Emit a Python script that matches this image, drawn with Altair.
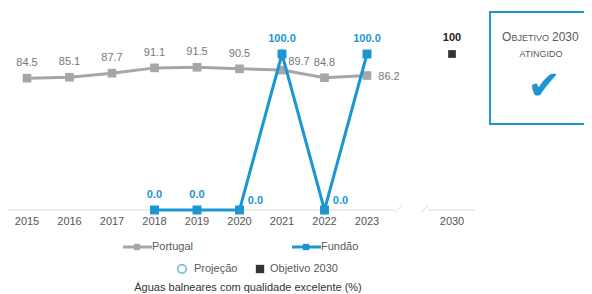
import altair as alt
import pandas as pd

# ---- data ----
years = ["2015", "2016", "2017", "2018", "2019", "2020", "2021", "2022", "2023", "2030"]
positions = [0, 1, 2, 3, 4, 5, 6, 7, 8, 10]
portugal = [84.5, 85.1, 87.7, 91.1, 91.5, 90.5, 89.7, 84.8, 86.2]
fundao_years = ["2018", "2019", "2020", "2021", "2022", "2023"]
fundao = [0.0, 0.0, 0.0, 100.0, 0.0, 100.0]
objetivo_year = "2030"
objetivo = [100]

pos_of = dict(zip(years, positions))
df_pt = pd.DataFrame({"year": years[:9], "pos": positions[:9], "v": portugal})
df_pt["lab"] = df_pt["v"].map(lambda v: f"{v:.1f}")
df_fu = pd.DataFrame({"year": fundao_years, "pos": [pos_of[y] for y in fundao_years], "v": fundao})
df_fu["lab"] = df_fu["v"].map(lambda v: f"{v:.1f}")
df_ob = pd.DataFrame({"year": [objetivo_year], "pos": [pos_of[objetivo_year]], "v": objetivo})
df_ob["lab"] = df_ob["v"].map(lambda v: f"{v:d}")
df_ticks = pd.DataFrame({"year": years, "pos": positions})

GRAY = "#a6a6a6"
BLUE = "#1b96d3"
FONT = "Liberation Sans"

xs = alt.Scale(domain=[0, 10], range=[19, 444])
ys = alt.Scale(domain=[0, 100], range=[202, 46])
X = alt.X("pos:Q", scale=xs, axis=None)
Y = alt.Y("v:Q", scale=ys, axis=None)

# Portugal
pt_line = alt.Chart(df_pt).mark_line(color=GRAY, strokeWidth=3).encode(x=X, y=Y)
pt_pts = alt.Chart(df_pt).mark_square(color=GRAY, opacity=1, size=75).encode(x=X, y=Y)
pt_lab_def = alt.Chart(df_pt).transform_filter(
    "datum.year != '2021' && datum.year != '2023'"
).mark_text(font=FONT, fontSize=11, color="#777777", dy=-15).encode(x=X, y=Y, text="lab:N")
pt_lab_21 = alt.Chart(df_pt).transform_filter("datum.year == '2021'").mark_text(
    font=FONT, fontSize=11, color="#777777", dx=17, dy=-8).encode(x=X, y=Y, text="lab:N")
pt_lab_23 = alt.Chart(df_pt).transform_filter("datum.year == '2023'").mark_text(
    font=FONT, fontSize=11, color="#777777", dx=22, dy=1).encode(x=X, y=Y, text="lab:N")

# Fundão
fu_line = alt.Chart(df_fu).mark_line(color=BLUE, strokeWidth=3).encode(x=X, y=Y)
fu_pts = alt.Chart(df_fu).mark_square(color=BLUE, opacity=1, size=80).encode(x=X, y=Y)
fu_lab_def = alt.Chart(df_fu).transform_filter(
    "datum.year != '2020' && datum.year != '2022'"
).mark_text(font=FONT, fontSize=11, fontWeight="bold", color=BLUE, dy=-15).encode(x=X, y=Y, text="lab:N")
fu_lab_side = alt.Chart(df_fu).transform_filter(
    "datum.year == '2020' || datum.year == '2022'"
).mark_text(font=FONT, fontSize=11, fontWeight="bold", color=BLUE, dx=16, dy=-9).encode(x=X, y=Y, text="lab:N")

# Objetivo 2030
ob_pt = alt.Chart(df_ob).mark_square(color="#333333", opacity=1, size=60).encode(x=X, y=Y)
ob_lab = alt.Chart(df_ob).mark_text(font=FONT, fontSize=11, fontWeight="bold", color="#222222", dy=-16).encode(
    x=X, y=Y, text="lab:N")

# x axis (manual, with break)
tick_lab = alt.Chart(df_ticks).mark_text(font=FONT, fontSize=11, color="#555555").encode(
    x=X, y=alt.value(214), text="year:N")
AX = "#d9d9d9"
one = pd.DataFrame({"a": [0]})
ax1 = alt.Chart(one).mark_rule(color=AX, strokeWidth=1).encode(x=alt.value(-3), x2=alt.value(387), y=alt.value(202))
ax2 = alt.Chart(one).mark_rule(color=AX, strokeWidth=1).encode(x=alt.value(420), x2=alt.value(467), y=alt.value(202))
sl1 = alt.Chart(one).mark_rule(color=AX, strokeWidth=1).encode(x=alt.value(387), x2=alt.value(394), y=alt.value(205), y2=alt.value(197))
sl2 = alt.Chart(one).mark_rule(color=AX, strokeWidth=1).encode(x=alt.value(413), x2=alt.value(420), y=alt.value(205), y2=alt.value(197))

# legend
leg = []
leg.append(alt.Chart(one).mark_rule(color=GRAY, strokeWidth=3).encode(x=alt.value(115), x2=alt.value(144), y=alt.value(239)))
leg.append(alt.Chart(one).mark_square(color=GRAY, opacity=1, size=40).encode(x=alt.value(129), y=alt.value(239)))
leg.append(alt.Chart(one).mark_text(font=FONT, fontSize=11, color="#595959", align="left").encode(
    x=alt.value(144), y=alt.value(239), text=alt.value("Portugal")))
leg.append(alt.Chart(one).mark_rule(color=BLUE, strokeWidth=3).encode(x=alt.value(284), x2=alt.value(313), y=alt.value(239)))
leg.append(alt.Chart(one).mark_square(color=BLUE, opacity=1, size=40).encode(x=alt.value(298), y=alt.value(239)))
leg.append(alt.Chart(one).mark_text(font=FONT, fontSize=11, color="#595959", align="left").encode(
    x=alt.value(313), y=alt.value(239), text=alt.value("Fundão")))
leg.append(alt.Chart(one).mark_point(shape="circle", filled=False, color=BLUE, strokeWidth=1.5, size=70).encode(
    x=alt.value(174), y=alt.value(261)))
leg.append(alt.Chart(one).mark_text(font=FONT, fontSize=11, color="#595959", align="left").encode(
    x=alt.value(186), y=alt.value(261), text=alt.value("Projeção")))
leg.append(alt.Chart(one).mark_square(color="#333333", opacity=1, size=70).encode(x=alt.value(252), y=alt.value(261)))
leg.append(alt.Chart(one).mark_text(font=FONT, fontSize=11, color="#595959", align="left").encode(
    x=alt.value(262), y=alt.value(261), text=alt.value("Objetivo 2030")))
leg.append(alt.Chart(one).mark_text(font=FONT, fontSize=11, color="#333333").encode(
    x=alt.value(240), y=alt.value(280), text=alt.value("Águas balneares com qualidade excelente (%)")))

# objective box
box = [
    alt.Chart(one).mark_rect(fill="white", stroke=BLUE, strokeWidth=2).encode(
        x=alt.value(482), x2=alt.value(581), y=alt.value(4), y2=alt.value(116)),
    alt.Chart(one).mark_text(font=FONT, fontSize=12, color="#595959", align="left", baseline="alphabetic").encode(
        x=alt.value(494), y=alt.value(33), text=alt.value("O")),
    alt.Chart(one).mark_text(font=FONT, fontSize=9, color="#595959", align="left", baseline="alphabetic").encode(
        x=alt.value(503.5), y=alt.value(33), text=alt.value("BJETIVO")),
    alt.Chart(one).mark_text(font=FONT, fontSize=12, color="#595959", align="left", baseline="alphabetic").encode(
        x=alt.value(544), y=alt.value(33), text=alt.value("2030")),
    alt.Chart(one).mark_text(font=FONT, fontSize=9, color="#595959", baseline="alphabetic").encode(
        x=alt.value(533), y=alt.value(49), text=alt.value("ATINGIDO")),
    alt.Chart(one).mark_text(font="DejaVu Sans", fontSize=40, color=BLUE).encode(
        x=alt.value(536), y=alt.value(79), text=alt.value("✔")),
]

chart = alt.layer(
    ax1, ax2, sl1, sl2, tick_lab,
    pt_line, pt_pts, pt_lab_def, pt_lab_21, pt_lab_23,
    fu_line, fu_pts, fu_lab_def, fu_lab_side,
    ob_pt, ob_lab,
    *leg, *box,
).properties(
    width=576, height=286, autosize=alt.AutoSizeParams(type="none"),
    padding={"left": 0, "top": 0, "right": 0, "bottom": 0},
).configure_view(stroke=None)

chart.save("out.html", embed_options={"renderer": "svg", "actions": False})
